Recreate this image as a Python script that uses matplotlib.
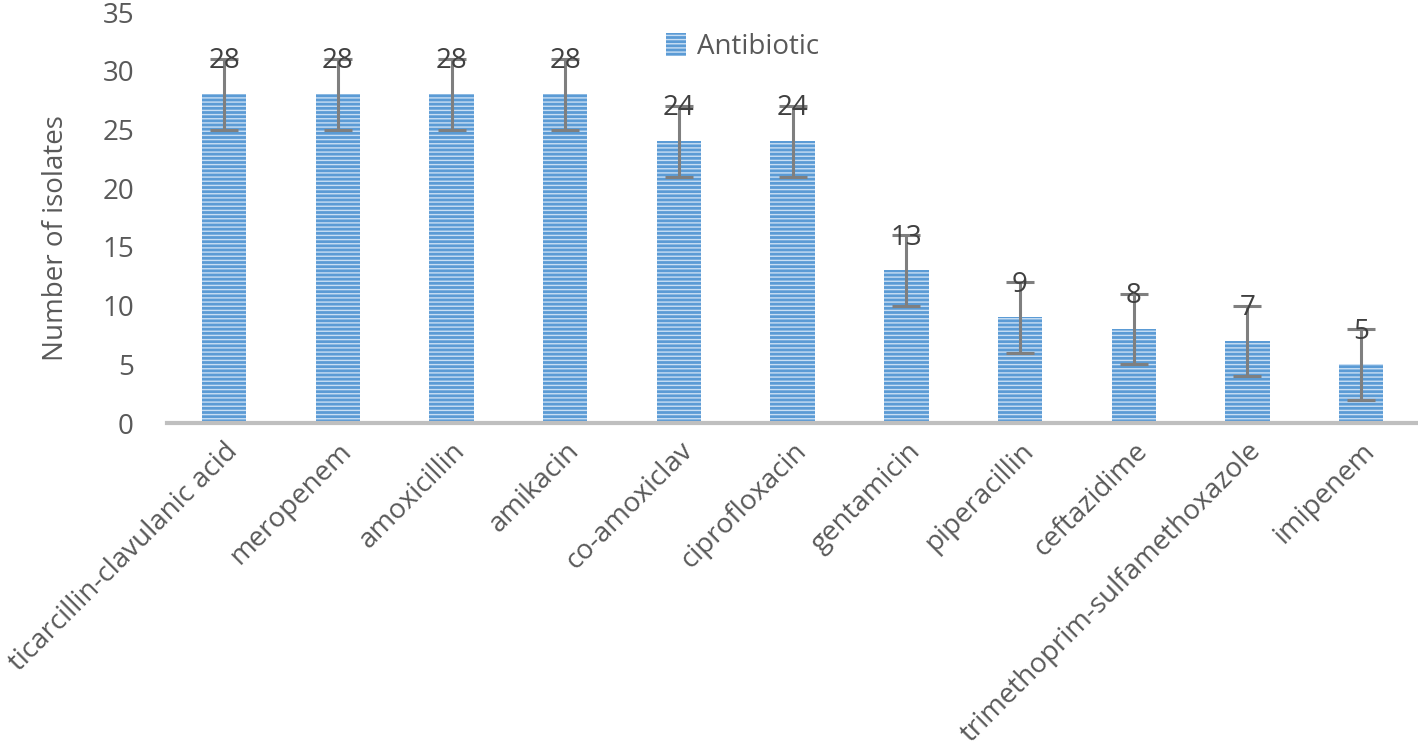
import numpy as np
import matplotlib.pyplot as plt

plt.rcParams['font.family'] = ['Open Sans', 'DejaVu Sans']
plt.rcParams['hatch.linewidth'] = 1.0
plt.rcParams['hatch.color'] = '#C9DFF4'

drugs = ['ticarcillin-clavulanic acid', 'meropenem', 'amoxicillin', 'amikacin',
         'co-amoxiclav', 'ciprofloxacin', 'gentamicin', 'piperacillin',
         'ceftazidime', 'trimethoprim-sulfamethoxazole', 'imipenem']
isolates = [28, 28, 28, 28, 24, 24, 13, 9, 8, 7, 5]
err = [3, 3, 3, 3, 3, 3, 3, 3, 3, 3, 3]

txt = '#595959'
fs = 20
fig = plt.figure(figsize=(14.18, 7.53), dpi=100)
ax = fig.add_axes([0.118, 0.438, 0.882, 0.546])

x = np.arange(len(drugs))
ax.bar(x, isolates, width=0.39, color='#5B9BD5', hatch='----',
       edgecolor='#C9DFF4', linewidth=0, label='Antibiotic')
ax.errorbar(x, isolates, yerr=err, fmt='none', ecolor='#7F7F7F',
            elinewidth=2.2, capsize=10, capthick=2.2)
for xi, v in zip(x, isolates):
    ax.text(xi, v + 2.8, str(v), ha='center', va='center', fontsize=fs,
            color='#404040', zorder=5)

ax.set_xlim(-0.5, len(drugs) - 0.5)
ax.set_ylim(0, 35)
ax.set_yticks(range(0, 36, 5))
ax.set_xticks(x)
ax.set_xticklabels(drugs, rotation=45, ha='right', rotation_mode='anchor')
ax.tick_params(axis='both', length=0, labelsize=fs, colors=txt, pad=10)
ax.tick_params(axis='y', pad=24)
for s in ['top', 'right', 'left']:
    ax.spines[s].set_visible(False)
ax.spines['bottom'].set_color('#BFBFBF')
ax.spines['bottom'].set_linewidth(3)
ax.set_ylabel('Number of isolates', fontsize=fs, color=txt)
ax.yaxis.set_label_coords(-0.078, 0.45)

ax.legend(loc='upper center', bbox_to_anchor=(0.46, 1.01), frameon=False,
          fontsize=fs, labelcolor=txt, handlelength=0.7, handleheight=0.9,
          handletextpad=0.4)

fig.savefig('out.png', dpi=100)
